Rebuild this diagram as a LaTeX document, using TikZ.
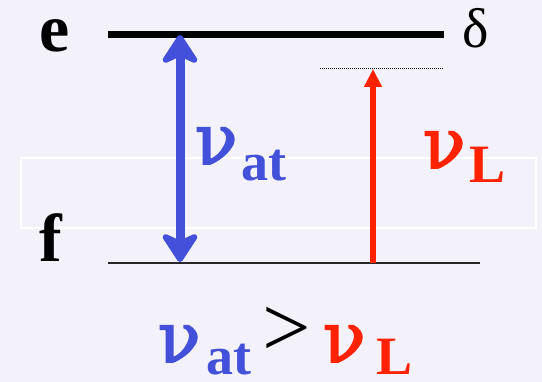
\documentclass[tikz,border=0pt]{standalone}
\usepackage{fontspec}
\setmainfont{Liberation Serif}
\newfontfamily\grkfont[FakeBold=2.5]{DejaVu Serif}
\usetikzlibrary{arrows.meta}
\definecolor{bgc}{RGB}{243,242,250}
\definecolor{atblue}{RGB}{67,80,217}
\definecolor{lred}{RGB}{255,34,0}
\tikzset{
  lbl/.style={inner sep=0pt, outer sep=0pt, anchor=base west},
  bignu/.style={lbl, font=\fontsize{70}{70}\grkfont},
  subs/.style={lbl, font=\fontsize{54}{54}\selectfont\bfseries},
  level/.style={line width=6.5pt, black},
  thinlevel/.style={line width=1.8pt, black!85},
  virt/.style={line width=1pt, dash pattern=on 1pt off 1pt, black},
  atarrow/.style={line width=9pt, atblue, {Stealth[length=34pt,width=44pt,inset=10pt,round]}-{Stealth[length=34pt,width=44pt,inset=10pt,round]}},
  larrow/.style={line width=5.5pt, lred, -{Triangle[length=18pt,width=17pt]}},
}
\begin{document}
\begin{tikzpicture}[x=1pt,y=-1pt]
\fill[bgc] (0,0) rectangle (542,382);
\useasboundingbox (0,0) rectangle (542,382);
\draw[white, line width=1.5pt] (21,158) rectangle (536,228);
% levels
\coordinate (eL) at (108,34.5);
\coordinate (eR) at (444,34.5);
\coordinate (fL) at (108,263);
\coordinate (fR) at (480,263);
\coordinate (vL) at (320,69);
\coordinate (vR) at (443,69);
\draw[level] (eL) -- (eR);
\draw[thinlevel] (fL) -- (fR);
\draw[virt] (vL) -- (vR);
% arrows
\coordinate (atTop) at (180,35);
\coordinate (atBot) at (180,262);
\coordinate (lBot) at (373,263);
\coordinate (lTop) at (373,69);
\draw[atarrow] (atTop) -- (atBot);
\draw[larrow] (lBot) -- (lTop);
% labels
\node[lbl, font=\fontsize{68}{68}\selectfont\bfseries] (e) at (39,52) {e};
\node[lbl, font=\fontsize{68}{68}\selectfont\bfseries] (f) at (39,262) {f};
\node[lbl, font=\fontsize{56}{56}\selectfont] (delta) at (462,48) {δ};
\node[bignu, text=atblue] (nuat) at (195,164) {ν};
\node[subs, text=atblue] (at) at (241,181) {at};
\node[bignu, text=lred] (nuL) at (423,168) {ν};
\node[subs, text=lred] (L) at (469,183) {L};
% relation
\node[bignu, text=atblue] (nuat2) at (158,362) {ν};
\node[subs, text=atblue] (at2) at (206,375) {at};
\node[lbl, font=\fontsize{86}{86}\selectfont] (gt) at (262,357) {>};
\node[bignu, text=lred] (nuL2) at (323,362) {ν};
\node[subs, text=lred] (L2) at (376,375) {L};
\end{tikzpicture}
\end{document}
